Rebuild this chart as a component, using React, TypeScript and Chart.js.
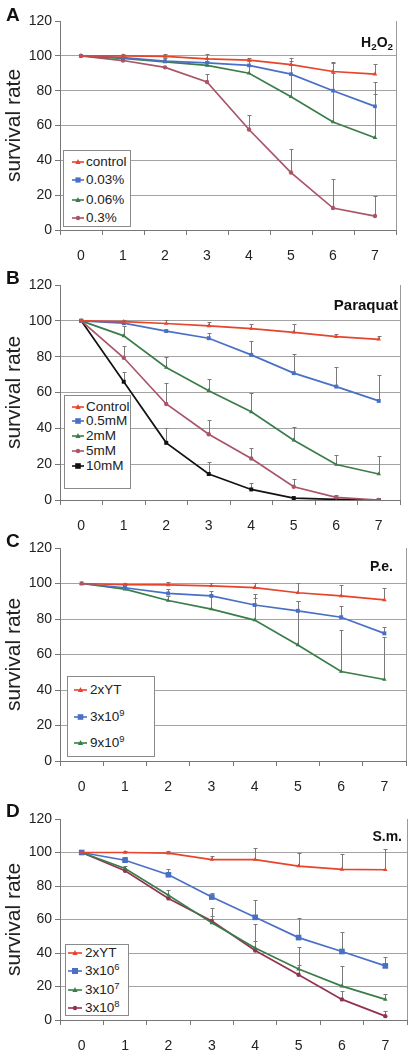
import React, { useEffect, useRef } from "react";
import { Chart, registerables } from "chart.js";

Chart.register(...registerables);

const days = ["0", "1", "2", "3", "4", "5", "6", "7"];

// Panel A (H2O2)
const A_control = [100, 100, 99.7, 98.3, 97.5, 95, 91, 89.5];
const A_control_up = [null, 101, 101, 101, 98.5, 99, 96.5, 95.5];
const A_003 = [100, 99, 97, 96, 94.5, 89.5, 80, 71];
const A_003_up = [null, 100, 99, 99, 97, 97, 96, 85];
const A_006 = [100, 98.5, 96.5, 94.5, 90, 76.5, 62, 53];
const A_006_up = [null, null, null, 97, 94, 95, 90, 78];
const A_03 = [100, 97.3, 93.4, 85, 57.7, 33, 12.6, 8];
const A_03_up = [null, null, null, 89.5, 66, 46.5, 29, 19.5];

// Panel B (Paraquat)
const B_control = [100, 99.6, 98.5, 97.2, 95.7, 93.6, 91.2, 89.7];
const B_control_up = [null, 100.5, 100.5, 99.5, 98.2, 98.2, 92.8, 91.8];
const B_05 = [100, 98.7, 94.3, 90.3, 81, 70.8, 63.3, 55.3];
const B_05_up = [null, 100, null, 93, 88.6, 81.5, 74.5, 70];
const B_2 = [100, 91.6, 74, 61, 49.2, 33.4, 19.8, 14.5];
const B_2_up = [null, 97, 80, 67.3, 59.6, 40.6, 25.1, 24.4];
const B_5 = [100, 79.4, 53.6, 36.7, 23.2, 7.4, 1.5, 0];
const B_5_up = [null, 85.8, 65.3, 44.8, 29.2, 11.6, 3, null];
const B_10 = [100, 66, 31.9, 14.5, 5.9, 1.1, 0.3, 0];
const B_10_up = [null, 71.6, 40, 21.2, 9.6, null, null, null];

// Panel C (P.e.)
const C_2xYT = [100, 99.3, 99.2, 98.7, 97.7, 94.8, 93, 90.8];
const C_2xYT_up = [null, 100.5, 101, 100.5, 100, 100, 99, 97.7];
const C_3e9 = [100, 97.6, 94.4, 93, 87.9, 84.6, 81, 71.9];
const C_3e9_up = [null, 99, 97, 96, 94.3, 90.2, 87.2, 75.5];
const C_9e9 = [100, 96.8, 90.4, 85.6, 79.4, 65.4, 50.4, 45.9];
const C_9e9_up = [null, 98, 93, 93, 92, 90, 73.8, 70];

// Panel D (S.m.)
const D_2xYT = [100, 100, 99.6, 95.8, 95.8, 91.9, 89.9, 89.7];
const D_2xYT_up = [null, 101, 101, 98, 102.4, 100, 99.4, 102];
const D_3e6 = [100, 95.4, 86.7, 73.4, 61.3, 49.2, 40.9, 32.3];
const D_3e6_up = [null, 97.5, 90.1, 76, 71.4, 60.6, 52.7, 37.5];
const D_3e7 = [100, 90.5, 74.5, 58, 43, 30.4, 20.2, 12.3];
const D_3e7_up = [null, 92, 77.7, 66.9, 57.6, 43.8, 32, 15.6];
const D_3e8 = [100, 89.1, 72.6, 59.1, 41.5, 27, 12.3, 2.3];
const D_3e8_up = [null, null, null, 62, 47, 33, 17.2, 5.3];

const yTicks = [0, 20, 40, 60, 80, 100, 120];

const RED = "#e8442b";
const BLUE = "#4a70c6";
const GREEN = "#3b7d49";
const MAUVE = "#ab5468";
const DARKMAUVE = "#93324f";
const BLACK = "#111111";

const FONT = "'Liberation Sans', Arial, sans-serif";

const supStyle: React.CSSProperties = { fontSize: "0.7em", lineHeight: 0, verticalAlign: "baseline", position: "relative", top: "-0.55em" };
const subStyle: React.CSSProperties = { fontSize: "0.7em", lineHeight: 0, verticalAlign: "baseline", position: "relative", top: "0.3em" };

type Series = {
  label: React.ReactNode;
  data: number[];
  up: (number | null)[];
  color: string;
  style: string;
  radius: number;
};

type PanelCfg = {
  letter: string;
  letterTop: number;
  title: React.ReactNode;
  titleRight: number;
  titleY: number;
  titleSize: number;
  canvasTop: number;
  chartTop: number;
  chartBottom: number;
  right: number;
  series: Series[];
  legend: { left: number; top: number; width: number; height: number; rows: number[]; swL: number; swW: number; textL: number };
};

const panels: PanelCfg[] = [
  {
    letter: "A", letterTop: 15,
    title: <span>H<span style={subStyle}>2</span>O<span style={subStyle}>2</span></span>,
    titleRight: 393, titleY: 42, titleSize: 14,
    canvasTop: 0, chartTop: 21, chartBottom: 230, right: 396,
    series: [
      { label: "control", data: A_control, up: A_control_up, color: RED, style: "triangle", radius: 2.6 },
      { label: "0.03%", data: A_003, up: A_003_up, color: BLUE, style: "rect", radius: 2.6 },
      { label: "0.06%", data: A_006, up: A_006_up, color: GREEN, style: "triangle", radius: 2.6 },
      { label: "0.3%", data: A_03, up: A_03_up, color: MAUVE, style: "circle", radius: 2.2 },
    ],
    legend: { left: 63, top: 150, width: 68, height: 77, rows: [162, 180, 200, 218], swL: 72, swW: 12, textL: 86 },
  },
  {
    letter: "B", letterTop: 278,
    title: "Paraquat", titleRight: 398, titleY: 305, titleSize: 15,
    canvasTop: 262, chartTop: 285, chartBottom: 500, right: 400,
    series: [
      { label: "Control", data: B_control, up: B_control_up, color: RED, style: "triangle", radius: 2.6 },
      { label: "0.5mM", data: B_05, up: B_05_up, color: BLUE, style: "rect", radius: 2.8 },
      { label: "2mM", data: B_2, up: B_2_up, color: GREEN, style: "triangle", radius: 2.6 },
      { label: "5mM", data: B_5, up: B_5_up, color: MAUVE, style: "circle", radius: 2.2 },
      { label: "10mM", data: B_10, up: B_10_up, color: BLACK, style: "rect", radius: 2.8 },
    ],
    legend: { left: 64, top: 395, width: 67, height: 94, rows: [407, 421, 436, 451, 466], swL: 72, swW: 12, textL: 86 },
  },
  {
    letter: "C", letterTop: 541,
    title: "P.e.", titleRight: 393, titleY: 566, titleSize: 14,
    canvasTop: 524, chartTop: 548, chartBottom: 761, right: 406,
    series: [
      { label: "2xYT", data: C_2xYT, up: C_2xYT_up, color: RED, style: "triangle", radius: 2.6 },
      { label: <span>3x10<span style={supStyle}>9</span></span>, data: C_3e9, up: C_3e9_up, color: BLUE, style: "rect", radius: 2.8 },
      { label: <span>9x10<span style={supStyle}>9</span></span>, data: C_9e9, up: C_9e9_up, color: GREEN, style: "triangle", radius: 2.6 },
    ],
    legend: { left: 67, top: 676, width: 88, height: 81, rows: [690, 717, 743], swL: 74, swW: 13, textL: 90 },
  },
  {
    letter: "D", letterTop: 811,
    title: "S.m.", titleRight: 402, titleY: 836, titleSize: 14,
    canvasTop: 786, chartTop: 819, chartBottom: 1020, right: 407,
    series: [
      { label: "2xYT", data: D_2xYT, up: D_2xYT_up, color: RED, style: "triangle", radius: 2.6 },
      { label: <span>3x10<span style={supStyle}>6</span></span>, data: D_3e6, up: D_3e6_up, color: BLUE, style: "rect", radius: 4 },
      { label: <span>3x10<span style={supStyle}>7</span></span>, data: D_3e7, up: D_3e7_up, color: GREEN, style: "triangle", radius: 2.6 },
      { label: <span>3x10<span style={supStyle}>8</span></span>, data: D_3e8, up: D_3e8_up, color: DARKMAUVE, style: "circle", radius: 2.2 },
    ],
    legend: { left: 65, top: 944, width: 64, height: 72, rows: [953, 971, 990, 1008], swL: 68, swW: 14, textL: 85 },
  },
];

const errorBarPlugin = {
  id: "errorBars",
  beforeDatasetsDraw(chart: any) {
    const ctx = chart.ctx;
    const xs = chart.scales.x;
    const ys = chart.scales.y;
    ctx.save();
    ctx.strokeStyle = "#7a7a7a";
    ctx.lineWidth = 1;
    chart.data.datasets.forEach((ds: any) => {
      const up = ds.upper as (number | null)[];
      if (!up) return;
      up.forEach((u, j) => {
        if (u == null) return;
        const px = Math.round(xs.getPixelForValue(j)) + 0.5;
        const p0 = ys.getPixelForValue(ds.data[j]);
        const p1 = Math.round(ys.getPixelForValue(u)) + 0.5;
        ctx.beginPath();
        ctx.moveTo(px, p0);
        ctx.lineTo(px, p1);
        ctx.moveTo(px - 2, p1);
        ctx.lineTo(px + 2, p1);
        ctx.stroke();
      });
    });
    const a = chart.chartArea;
    ctx.strokeStyle = "#9a9a9a";
    ctx.beginPath();
    ctx.moveTo(Math.round(a.right) + 0.5, a.top);
    ctx.lineTo(Math.round(a.right) + 0.5, a.bottom);
    ctx.stroke();
    ctx.restore();
  },
};

function Marker({ style, color, cx, cy, r }: { style: string; color: string; cx: number; cy: number; r: number }) {
  if (style === "rect") return <rect x={cx - r} y={cy - r} width={2 * r} height={2 * r} fill={color} />;
  if (style === "triangle") return <polygon points={`${cx},${cy - r - 0.5} ${cx - r},${cy + r * 0.8} ${cx + r},${cy + r * 0.8}`} fill={color} />;
  return <circle cx={cx} cy={cy} r={r} fill={color} />;
}

function Panel({ cfg }: { cfg: PanelCfg }) {
  const ref = useRef<HTMLCanvasElement | null>(null);
  const xh = 36;
  const h = cfg.chartBottom - cfg.canvasTop + xh;
  useEffect(() => {
    if (!ref.current) return;
    const chart = new Chart(ref.current, {
      type: "line",
      data: {
        labels: days,
        datasets: cfg.series.map((s) => ({
          label: typeof s.label === "string" ? s.label : "",
          data: s.data,
          upper: s.up,
          borderColor: s.color,
          backgroundColor: s.color,
          borderWidth: 1.7,
          pointStyle: s.style,
          pointRadius: s.radius,
          pointBorderWidth: 0,
          tension: 0,
        })) as any,
      },
      options: {
        animation: false,
        responsive: false,
        events: [],
        layout: { padding: { top: cfg.chartTop - cfg.canvasTop, right: 415 - cfg.right, left: 0, bottom: 0 } },
        plugins: { legend: { display: false }, tooltip: { enabled: false } },
        scales: {
          x: {
            type: "category",
            offset: true,
            grid: { offset: true, drawOnChartArea: false, drawTicks: true, tickLength: 5, color: "#777" },
            border: { color: "#777" },
            ticks: { font: { size: 14, family: FONT }, color: "#222", padding: 13 },
            afterFit: (s: any) => { s.height = xh; },
          },
          y: {
            min: 0,
            max: 120,
            afterBuildTicks: (s: any) => { s.ticks = yTicks.map((v) => ({ value: v })); },
            ticks: { font: { size: 14, family: FONT }, color: "#222", padding: 3 },
            grid: {
              color: (c: any) => (c.tick && (c.tick.value === 120 || c.tick.value === 0) ? "rgba(0,0,0,0)" : "#a3a3a3"),
              tickColor: "#777",
              tickLength: 5,
            },
            border: { color: "#777" },
            title: { display: true, text: "survival rate", font: { size: 21, family: FONT }, color: "#222", padding: { top: 2, bottom: 0 } },
            afterFit: (s: any) => { s.width = 60; },
          },
        },
      } as any,
      plugins: [errorBarPlugin],
    });
    return () => chart.destroy();
  }, []);
  const lg = cfg.legend;
  return (
    <>
      <canvas ref={ref} width={415} height={h} style={{ position: "absolute", left: 0, top: cfg.canvasTop, width: 415, height: h }} />
      <div style={{ position: "absolute", left: 6, top: cfg.letterTop - 11, fontFamily: FONT, fontWeight: "bold", fontSize: 19, lineHeight: "22px", color: "#111" }}>{cfg.letter}</div>
      <div style={{ position: "absolute", right: 415 - cfg.titleRight, top: cfg.titleY - 9, fontFamily: FONT, fontWeight: "bold", fontSize: cfg.titleSize, lineHeight: "18px", color: "#111", whiteSpace: "nowrap" }}>{cfg.title}</div>
      <div style={{ position: "absolute", left: lg.left, top: lg.top, width: lg.width, height: lg.height, border: "1px solid #8a8a8a", background: "#fff", boxSizing: "border-box" }} />
      {cfg.series.map((s, i) => (
        <React.Fragment key={i}>
          <svg width={lg.swW} height={10} style={{ position: "absolute", left: lg.swL, top: lg.rows[i] - 5 }}>
            <line x1={0} y1={5} x2={lg.swW} y2={5} stroke={s.color} strokeWidth={1.6} />
            <Marker style={s.style} color={s.color} cx={lg.swW / 2} cy={5} r={Math.min(s.radius, 3)} />
          </svg>
          <div style={{ position: "absolute", left: lg.textL, top: lg.rows[i] - 8, fontFamily: FONT, fontSize: 13.5, lineHeight: "16px", height: 16, color: "#222", whiteSpace: "nowrap" }}>{s.label}</div>
        </React.Fragment>
      ))}
    </>
  );
}

export default function App() {
  return (
    <div style={{ position: "absolute", left: 0, top: 0, width: 415, height: 1050, background: "#fff", overflow: "hidden" }}>
      {panels.map((p, i) => (
        <Panel key={i} cfg={p} />
      ))}
    </div>
  );
}
